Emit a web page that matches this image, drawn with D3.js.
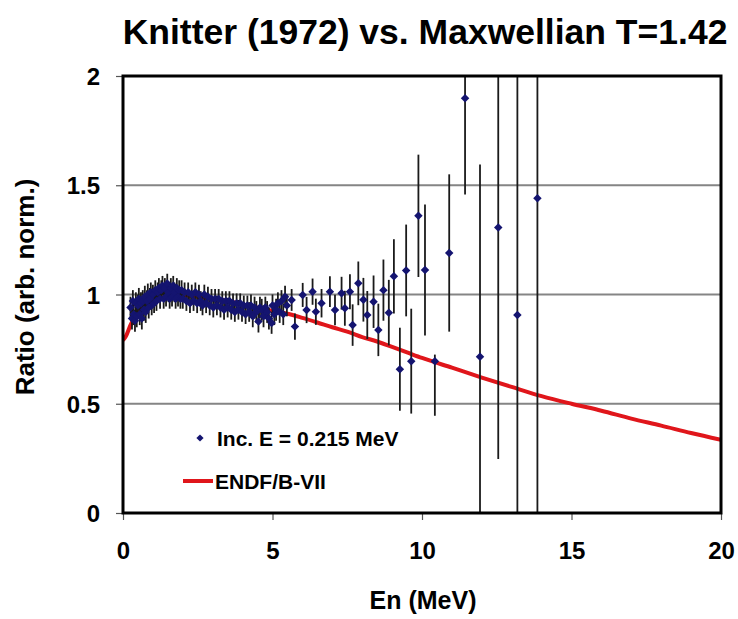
<!DOCTYPE html>
<html>
<head>
<meta charset="utf-8">
<script src="https://cdn.jsdelivr.net/npm/d3@7"></script>
<style>
  html, body { margin: 0; padding: 0; background: #fff; }
  svg { display: block; }
  text { font-family: "Liberation Sans", Arial, sans-serif; font-weight: bold; fill: #000; }
</style>
</head>
<body>
<svg id="chart" width="738" height="619"></svg>
<script>
// ---- Data ----
const titleText = "Knitter (1972) vs. Maxwellian T=1.42";
const xLabel = "En (MeV)";
const yLabel = "Ratio (arb. norm.)";
const xTicks = [0, 5, 10, 15, 20];
const yTicks = [0, 0.5, 1, 1.5, 2];
const yTickLabels = ["0", "0.5", "1", "1.5", "2"];
const gridValues = [0.5, 1, 1.5];
const seriesNames = ["Inc. E = 0.215 MeV", "ENDF/B-VII"];

// Knitter (1972) data: energy (MeV), ratio, lower / upper error
const energy = [
  0.25,0.30,0.33,0.36,0.40,0.43,0.46,0.50,0.53,0.56,0.60,0.63,0.66,0.70,0.73,0.76,0.80,0.83,0.86,0.90,
  0.93,0.96,1.00,1.04,1.08,1.12,1.16,1.20,1.24,1.28,1.32,1.36,1.40,1.44,1.48,1.52,1.56,1.60,1.64,1.68,
  1.72,1.76,1.80,1.84,1.88,1.92,1.96,2.00,2.06,2.12,2.18,2.24,2.30,2.36,2.42,2.48,2.54,2.60,2.66,2.72,
  2.78,2.84,2.90,2.96,3.02,3.08,3.14,3.20,3.26,3.32,3.38,3.44,3.50,3.56,3.62,3.68,3.74,3.80,3.86,3.92,
  3.98,4.04,4.10,4.16,4.22,4.28,4.34,4.40,4.46,4.53,4.58,4.64,4.70,4.76,4.82,4.88,4.97,5.00,5.06,5.12,
  5.18,5.24,5.30,5.36,5.42,5.48,5.64,5.75,6.01,6.14,6.34,6.45,6.64,6.92,7.09,7.31,7.42,7.59,7.68,7.87,
  8.04,8.17,8.38,8.54,8.71,8.89,9.06,9.26,9.47,9.64,9.88,10.10,10.43,10.91,11.44,11.94,12.55,13.19,13.86
];
const ratio = [
  0.94,0.89,0.97,0.91,0.88,0.96,0.90,0.95,0.98,0.91,0.96,0.89,0.97,0.93,0.99,0.92,0.97,1.00,0.94,0.98,
  1.01,0.95,1.00,0.96,1.02,0.97,1.01,1.03,0.98,1.02,1.04,0.98,1.03,0.99,1.05,1.01,0.98,1.03,0.99,1.04,
  1.01,0.98,1.03,0.99,1.02,0.98,1.02,0.98,1.01,0.97,1.01,0.96,1.00,0.97,1.01,0.96,1.00,0.97,0.95,1.00,
  0.96,0.99,0.95,0.98,0.94,0.98,0.95,0.98,0.94,0.97,0.93,0.97,0.94,0.97,0.93,0.96,0.92,0.96,0.93,0.96,
  0.92,0.95,0.91,0.95,0.92,0.95,0.90,0.94,0.92,0.876,0.94,0.93,0.90,0.94,0.92,0.89,0.87,0.95,0.91,0.93,
  0.96,0.92,0.97,0.91,0.99,0.95,0.975,0.853,0.998,0.929,1.013,0.921,0.96,1.013,0.929,1.006,0.937,1.013,0.86,1.051,
  0.976,0.906,0.967,0.838,1.02,0.917,1.083,0.658,1.11,0.695,1.36,1.112,0.695,1.19,1.898,0.715,1.307,0.906,1.44
];
const errLow = [
  0.05,0.05,0.05,0.05,0.05,0.05,0.05,0.05,0.05,0.05,0.05,0.05,0.05,0.05,0.05,0.05,0.05,0.05,0.05,0.05,
  0.045,0.045,0.045,0.045,0.045,0.045,0.045,0.045,0.045,0.045,0.045,0.045,0.045,0.045,0.045,0.045,0.045,0.045,0.045,0.045,
  0.045,0.045,0.045,0.045,0.045,0.045,0.045,0.045,0.045,0.045,0.045,0.045,0.045,0.045,0.045,0.045,0.045,0.045,0.045,0.045,
  0.045,0.045,0.045,0.045,0.045,0.045,0.045,0.045,0.045,0.045,0.045,0.045,0.045,0.045,0.045,0.045,0.045,0.045,0.045,0.045,
  0.045,0.045,0.045,0.045,0.045,0.05,0.05,0.05,0.05,0.05,0.05,0.05,0.05,0.05,0.05,0.05,0.05,0.05,0.05,0.05,
  0.05,0.05,0.05,0.05,0.05,0.05,0.05,0.06,0.055,0.06,0.06,0.06,0.065,0.07,0.07,0.075,0.08,0.08,0.095,0.10,
  0.10,0.11,0.12,0.12,0.14,0.15,0.17,0.19,0.21,0.24,0.28,0.30,0.25,0.36,0.44,0.88,1.06,1.60,1.60
];
const errHigh = [
  0.05,0.05,0.05,0.05,0.05,0.05,0.05,0.05,0.05,0.05,0.05,0.05,0.05,0.05,0.05,0.05,0.05,0.05,0.05,0.05,
  0.045,0.045,0.045,0.045,0.045,0.045,0.045,0.045,0.045,0.045,0.045,0.045,0.045,0.045,0.045,0.045,0.045,0.045,0.045,0.045,
  0.045,0.045,0.045,0.045,0.045,0.045,0.045,0.045,0.045,0.045,0.045,0.045,0.045,0.045,0.045,0.045,0.045,0.045,0.045,0.045,
  0.045,0.045,0.045,0.045,0.045,0.045,0.045,0.045,0.045,0.045,0.045,0.045,0.045,0.045,0.045,0.045,0.045,0.045,0.045,0.045,
  0.045,0.045,0.045,0.045,0.045,0.05,0.05,0.05,0.05,0.05,0.05,0.05,0.05,0.05,0.05,0.05,0.05,0.05,0.05,0.05,
  0.05,0.05,0.05,0.05,0.05,0.05,0.05,0.06,0.055,0.06,0.06,0.06,0.065,0.07,0.07,0.075,0.08,0.08,0.095,0.10,
  0.10,0.11,0.12,0.12,0.14,0.15,0.17,0.19,0.21,0.24,0.28,0.30,0.03,0.36,0.44,0.88,1.06,1.60,1.60
];

// ENDF/B-VII ratio curve
const endfEnergy = [0,0.1,0.25,0.5,0.75,1.0,1.5,2.0,2.5,3.0,3.5,4.0,4.5,5.0,5.5,6.0,6.5,7.0,7.5,8.0,8.5,9.0,9.5,10,11,12,13,14,15,16,17,18,19,20];
const endfRatio  = [0.79,0.81,0.86,0.92,0.955,0.975,0.99,0.995,0.99,0.98,0.97,0.955,0.94,0.925,0.912,0.893,0.872,0.85,0.83,0.805,0.785,0.76,0.735,0.71,0.665,0.62,0.577,0.535,0.50,0.468,0.432,0.40,0.366,0.335];

// ---- Layout ----
const svg = d3.select("#chart");
const margin = { left: 123, right: 17, top: 76, bottom: 106 };
const W = 738, H = 619;
const x = d3.scaleLinear().domain([0, 20]).range([margin.left, W - margin.right]);
const y = d3.scaleLinear().domain([0, 2]).range([H - margin.bottom, margin.top]);

// title
svg.append("text").attr("x", 425).attr("y", 44).attr("text-anchor", "middle")
  .style("font-size", "35.5px").text(titleText);

// clip
svg.append("clipPath").attr("id", "plotclip").append("rect")
  .attr("x", x(0)).attr("y", y(2)).attr("width", x(20) - x(0)).attr("height", y(0) - y(2));

// gridlines
svg.append("g").selectAll("line").data(gridValues).join("line")
  .attr("x1", x(0)).attr("x2", x(20)).attr("y1", d => y(d)).attr("y2", d => y(d))
  .attr("stroke", "#858585").attr("stroke-width", 1.8);

// axes (ticks + labels)
const xAxis = d3.axisBottom(x).tickValues(xTicks).tickSize(7).tickFormat(d3.format("d"));
const gx = svg.append("g").attr("transform", `translate(0,${y(0)})`).call(xAxis);
gx.select(".domain").remove();
gx.selectAll(".tick line").attr("stroke", "#555").attr("stroke-width", 1.2);
gx.selectAll(".tick text").attr("dy", 0).attr("y", 46)
  .style("font-size", "24px").style("font-family", "'Liberation Sans', Arial, sans-serif").style("font-weight", "bold");

const yAxis = d3.axisLeft(y).tickValues(yTicks).tickSize(7).tickFormat((d, i) => yTickLabels[i]);
const gy = svg.append("g").attr("transform", `translate(${x(0)},0)`).call(yAxis);
gy.select(".domain").remove();
gy.selectAll(".tick line").attr("stroke", "#555").attr("stroke-width", 1.2);
gy.selectAll(".tick text").attr("x", -23).attr("dy", "0.36em")
  .style("font-size", "24px").style("font-family", "'Liberation Sans', Arial, sans-serif").style("font-weight", "bold");

// axis titles
svg.append("text").attr("x", 423).attr("y", 609).attr("text-anchor", "middle")
  .style("font-size", "25px").text(xLabel);
svg.append("text").attr("transform", "translate(34,287) rotate(-90)").attr("text-anchor", "middle")
  .style("font-size", "26px").text(yLabel);

// data
const pts = energy.map((e, i) => ({ e, v: ratio[i], lo: errLow[i], hi: errHigh[i] }));
const plot = svg.append("g").attr("clip-path", "url(#plotclip)");

const line = d3.line().x((d, i) => x(endfEnergy[i])).y(d => y(d)).curve(d3.curveMonotoneX);
plot.append("path").datum(endfRatio).attr("d", line)
  .attr("fill", "none").attr("stroke", "#e0161b").attr("stroke-width", 4);

plot.append("g").selectAll("line").data(pts).join("line")
  .attr("x1", d => x(d.e)).attr("x2", d => x(d.e))
  .attr("y1", d => y(d.v - d.lo)).attr("y2", d => y(d.v + d.hi))
  .attr("stroke", "#1a1a1a").attr("stroke-width", 1.8);

// diamond = square rotated 45 degrees
const marker = d3.symbol().type(d3.symbolSquare).size(36);
plot.append("g").selectAll("path").data(pts).join("path")
  .attr("d", marker).attr("transform", d => `translate(${x(d.e)},${y(d.v)}) rotate(45)`)
  .attr("fill", "#141470");

// frame
svg.append("rect").attr("x", x(0)).attr("y", y(2)).attr("width", x(20) - x(0)).attr("height", y(0) - y(2))
  .attr("fill", "none").attr("stroke", "#000").attr("stroke-width", 3);

// legend
const lg = svg.append("g");
lg.append("path").attr("d", d3.symbol().type(d3.symbolSquare).size(26))
  .attr("transform", "translate(200,438) rotate(45)").attr("fill", "#141470");
lg.append("text").attr("x", 217).attr("y", 446).style("font-size", "21px").text(seriesNames[0]);
lg.append("line").attr("x1", 183).attr("x2", 213).attr("y1", 481).attr("y2", 481)
  .attr("stroke", "#e0161b").attr("stroke-width", 4);
lg.append("text").attr("x", 215).attr("y", 489).style("font-size", "21px").text(seriesNames[1]);
</script>
</body>
</html>
